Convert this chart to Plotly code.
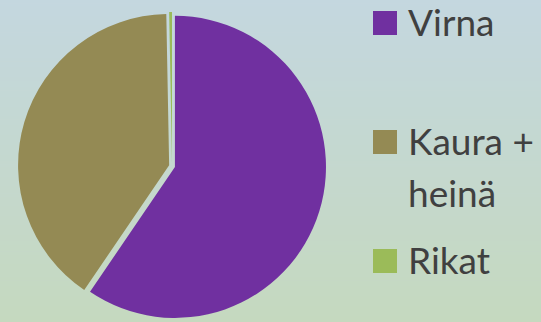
import plotly.graph_objects as go

# Composition of the harvest sample (share of total, %)
labels = ["Virna", "Kaura + heinä", "Rikat"]
legend_lines = [["Virna"], ["Kaura +", "heinä"], ["Rikat"]]
values = [59.5, 40.2, 0.3]
colors = ["#7030A0", "#948A54", "#9BBB59"]

W, H = 541, 322

fig = go.Figure(
    go.Pie(
        labels=labels,
        values=values,
        sort=False,
        direction="clockwise",
        rotation=0,
        pull=[0.02, 0.02, 0.02],
        marker=dict(colors=colors, line=dict(width=0)),
        textinfo="none",
        hoverinfo="label+percent",
        domain=dict(x=[0.033, 0.603], y=[0.006, 0.963]),
        showlegend=False,
    )
)

# Soft vertical background gradient: blue-grey at the top, pale green at the bottom
top_rgb = (196, 215, 223)
bot_rgb = (197, 217, 191)
n_strips = 100
shapes = []
for i in range(n_strips):
    t = i / (n_strips - 1)
    c = tuple(round(top_rgb[k] + (bot_rgb[k] - top_rgb[k]) * t) for k in range(3))
    y1 = 1 - i / n_strips
    y0 = 1 - (i + 1) / n_strips - 0.002
    shapes.append(dict(
        type="rect", xref="paper", yref="paper",
        x0=0, x1=1, y0=y0, y1=y1,
        fillcolor="rgb(%d,%d,%d)" % c, line=dict(width=0), layer="below",
    ))

# Legend: coloured squares with labels, spread down the right side
legend_tops = [11, 130, 249]  # pixel rows of swatch tops
line_step = 52
annotations = []
for lines, col, top in zip(legend_lines, colors, legend_tops):
    shapes.append(dict(
        type="rect", xref="paper", yref="paper",
        x0=373 / W, x1=397 / W, y0=1 - (top + 24) / H, y1=1 - top / H,
        fillcolor=col, line=dict(width=0), layer="above",
    ))
    for j, txt in enumerate(lines):
        annotations.append(dict(
            text=txt, xref="paper", yref="paper",
            x=406 / W, y=1 - (top - 14 + j * line_step) / H,
            xanchor="left", yanchor="top",
            align="left", showarrow=False,
            font=dict(family="Lato", size=37, color="#404040"),
        ))

fig.update_layout(
    width=W, height=H,
    margin=dict(l=0, r=0, t=0, b=0),
    paper_bgcolor="#c5d8d6",
    plot_bgcolor="rgba(0,0,0,0)",
    shapes=shapes,
    annotations=annotations,
)

fig.write_html("out.html")
